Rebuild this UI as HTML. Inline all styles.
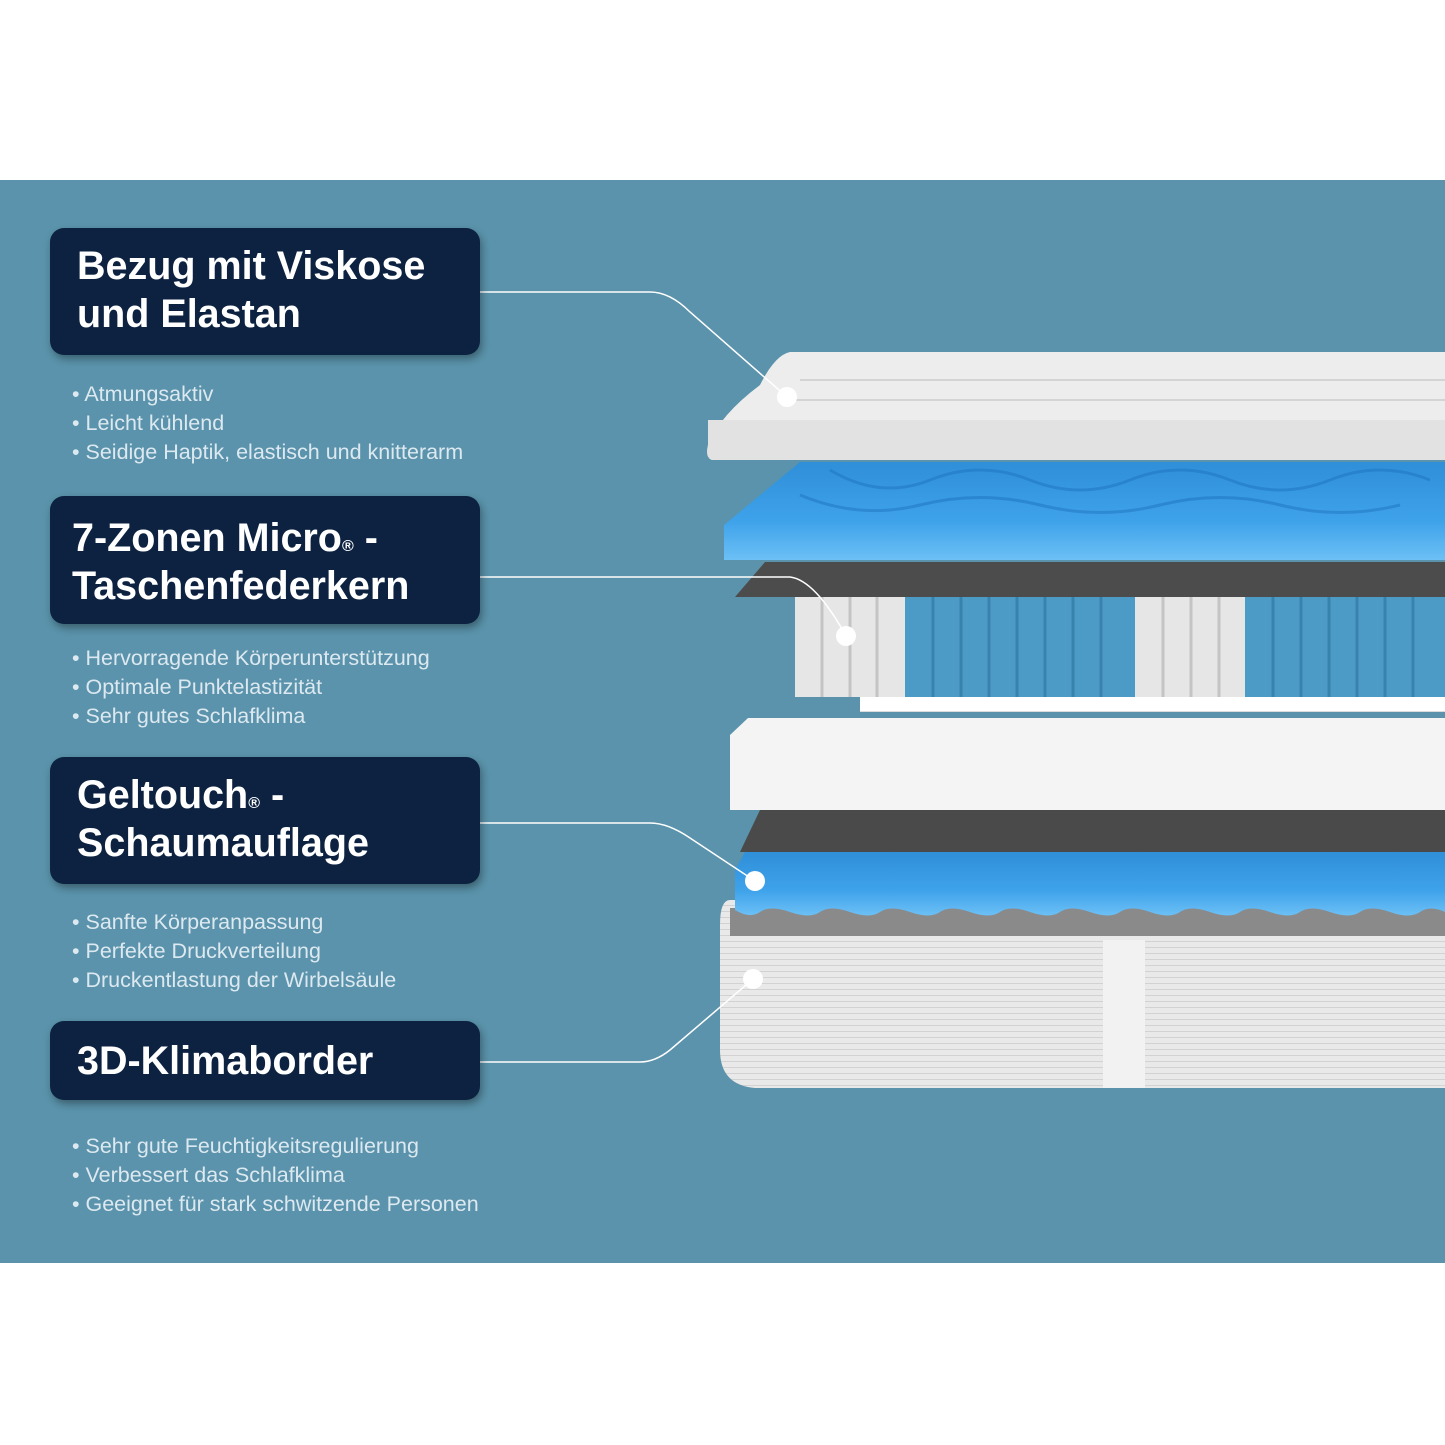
<!DOCTYPE html>
<html><head><meta charset="utf-8"><style>
body{margin:0;width:1445px;height:1445px;background:#fff;position:relative;overflow:hidden;font-family:"Liberation Sans",sans-serif}
#bg{position:absolute;left:0;top:180px;width:1445px;height:1083px;background:#5a93ab}
.box{position:absolute;left:50px;width:430px;background:#0c2240;border-radius:14px;box-shadow:2px 4px 8px rgba(0,0,0,.35);color:#fff;font-weight:bold;font-size:39.5px;line-height:48px;box-sizing:border-box;padding-left:27px;white-space:nowrap}
.box sup{font-size:16px;vertical-align:baseline;line-height:0}
.ul{position:absolute;left:72px;color:#dde9f0;font-size:21.5px;line-height:29px}
svg{position:absolute;left:0;top:0}
</style></head><body>
<div id="bg"></div>
<svg width="1445" height="1445">
<defs>
<pattern id="st" width="4" height="6" patternUnits="userSpaceOnUse"><rect width="4" height="6" fill="#e9e9e9"/><rect y="5" width="4" height="1" fill="#d2d2d2"/></pattern>
<linearGradient id="bl" x1="0" y1="0" x2="0" y2="1"><stop offset="0" stop-color="#2f8fd8"/><stop offset="0.6" stop-color="#3ea2ea"/><stop offset="1" stop-color="#6cc0f5"/></linearGradient>
</defs>
<path d="M730 900 H1445 V1088 H755 Q720 1085 720 1050 V925 Q720 900 730 900Z" fill="url(#st)"/>
<rect x="1103" y="940" width="42" height="148" fill="#f2f2f2"/>
<rect x="730" y="908" width="715" height="28" fill="#8a8a8a"/>
<path d="M745 852 H1445 V912 Q1430 905 1420 912 T1390 912 T1360 912 T1330 912 T1300 912 T1270 912 T1240 912 T1210 912 T1180 912 T1150 912 T1120 912 T1090 912 T1060 912 T1030 912 T1000 912 T970 912 T940 912 T910 912 T880 912 T850 912 T820 912 T790 912 T760 912 T735 910 V870Z" fill="url(#bl)"/>
<path d="M760 810 H1445 V852 H740Z" fill="#4a4a4a"/>
<path d="M795 660 H1445 V712 H860 V697 H795Z" fill="#dcdcdc"/>
<path d="M748 718 H1445 V810 H730 V735Z" fill="#f4f4f4"/>
<rect x="860" y="697" width="585" height="14" fill="#fff"/>
<rect x="795" y="595" width="650" height="102" fill="#e6e6e6"/>
<g fill="#4b9bc6">
<rect x="905" y="595" width="230" height="102"/>
<rect x="1245" y="595" width="200" height="102"/>
</g>
<g stroke="#2f7aa3" stroke-width="3" opacity=".7">
<path d="M933 595V697M961 595V697M989 595V697M1017 595V697M1045 595V697M1073 595V697M1101 595V697M1273 595V697M1301 595V697M1329 595V697M1357 595V697M1385 595V697M1413 595V697"/>
</g>
<g stroke="#c4c4c4" stroke-width="3">
<path d="M822 595V697M850 595V697M877 595V697M1163 595V697M1191 595V697M1219 595V697"/>
</g>
<path d="M765 562 H1445 V597 H735 Z" fill="#4c4c4c"/>
<path d="M800 462 H1445 V560 H724 V525 Z" fill="url(#bl)"/>
<g stroke="#1f73c0" stroke-width="3" opacity=".5" fill="none">
<path d="M830 470 Q880 500 930 480 T1030 480 T1130 480 T1230 480 T1330 480 T1430 480"/>
<path d="M800 495 Q860 520 920 505 T1040 505 T1160 505 T1280 505 T1400 505"/>
</g>
<path d="M790 352 H1445 V460 H712 Q705 458 708 445 Q720 415 760 385 Q775 355 790 352Z" fill="#ededed"/>
<path d="M708 420 H1445 V460 H712 Q705 458 708 445Z" fill="#e2e2e2"/>
<g stroke="#d4d4d4" stroke-width="2" fill="none">
<path d="M800 380 H1445M780 400 H1445"/>
</g>
<g stroke="#fff" stroke-width="1.5" fill="none">
<path d="M480 292 H650 Q670 292 690 312 L787 397"/>
<path d="M480 577 H790 Q815 580 846 636"/>
<path d="M480 823 H650 Q668 823 690 838 L755 881"/>
<path d="M480 1062 H640 Q655 1062 670 1050 L753 979"/>
</g>
<g fill="#fff"><circle cx="787" cy="397" r="10"/><circle cx="846" cy="636" r="10"/><circle cx="755" cy="881" r="10"/><circle cx="753" cy="979" r="10"/></g>
</svg>
<div class="box" style="top:228px;height:127px;padding-top:14px">Bezug mit Viskose<br>und Elastan</div>
<div class="ul" style="top:380px">• Atmungsaktiv<br>• Leicht kühlend<br>• Seidige Haptik, elastisch und knitterarm</div>
<div class="box" style="top:496px;height:128px;padding-top:18px;padding-left:22px">7-Zonen Micro<sup>®</sup> -<br>Taschenfederkern</div>
<div class="ul" style="top:644px">• Hervorragende Körperunterstützung<br>• Optimale Punktelastizität<br>• Sehr gutes Schlafklima</div>
<div class="box" style="top:757px;height:127px;padding-top:14px">Geltouch<sup>®</sup> -<br>Schaumauflage</div>
<div class="ul" style="top:908px">• Sanfte Körperanpassung<br>• Perfekte Druckverteilung<br>• Druckentlastung der Wirbelsäule</div>
<div class="box" style="top:1021px;height:79px;padding-top:16px">3D-Klimaborder</div>
<div class="ul" style="top:1132px">• Sehr gute Feuchtigkeitsregulierung<br>• Verbessert das Schlafklima<br>• Geeignet für stark schwitzende Personen</div>
</body></html>
